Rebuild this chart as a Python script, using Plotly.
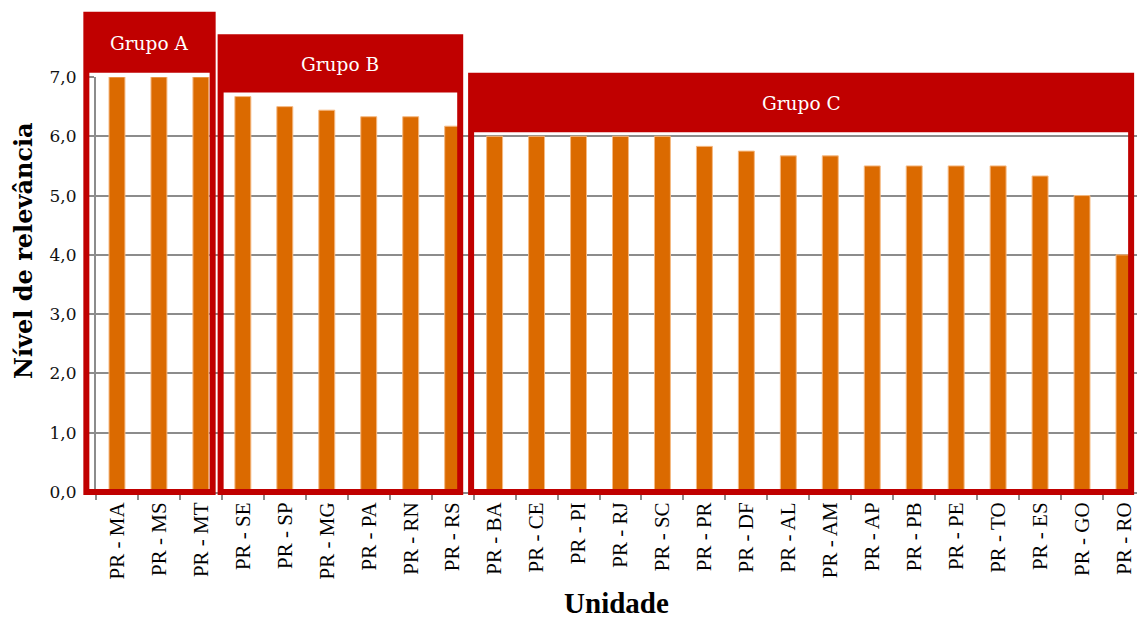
import plotly.graph_objects as go

# ---------------- data ----------------
categories = [
    "PR - MA", "PR - MS", "PR - MT",
    "PR - SE", "PR - SP", "PR - MG", "PR - PA", "PR - RN", "PR - RS",
    "PR - BA", "PR - CE", "PR - PI", "PR - RJ", "PR - SC", "PR - PR", "PR - DF",
    "PR - AL", "PR - AM", "PR - AP", "PR - PB", "PR - PE", "PR - TO", "PR - ES",
    "PR - GO", "PR - RO",
]
values = [
    7.0, 7.0, 7.0,
    6.67, 6.5, 6.44, 6.33, 6.33, 6.17,
    6.0, 6.0, 6.0, 6.0, 6.0, 5.83, 5.75,
    5.67, 5.67, 5.5, 5.5, 5.5, 5.5, 5.33,
    5.0, 4.0,
]
group_names = ["Grupo A", "Grupo B", "Grupo C"]
group_first = [0, 3, 9]
group_last = [2, 8, 24]
y_tickvals = [0, 1, 2, 3, 4, 5, 6, 7]
y_ticktext = ["0,0", "1,0", "2,0", "3,0", "4,0", "5,0", "6,0", "7,0"]
x_title = "Unidade"
y_title = "Nível de relevância"

# ---------------- layout constants ----------------
W, H = 1137, 619
ML, MR, MT, MB = 96, 0, 77, 127
X_RANGE = [-0.5, 24.31]
Y_RANGE = [0, 7]
PLOT_W = W - ML - MR
PLOT_H = H - MT - MB

RED = "#C00000"
ORANGE = "#DB6A00"
GRID = "#8C8C8C"

# box padding (category units) left/right, header geometry (value units)
box_pad_left = [0.73, 0.53, 0.56]
box_pad_right = [0.28, 0.18, 0.17]
header_gap = 0.07
header_height = [0.98, 0.93, 0.95]
FRAME_W = 6


def xp(d):
    return (d - X_RANGE[0]) / (X_RANGE[1] - X_RANGE[0])


def yp(v):
    return (v - Y_RANGE[0]) / (Y_RANGE[1] - Y_RANGE[0])


fig = go.Figure()
fig.add_trace(go.Bar(
    x=categories, y=values, width=0.38,
    marker=dict(color=ORANGE, line=dict(color="rgba(245,185,130,1)", width=1)),
    showlegend=False, hoverinfo="x+y",
))

shapes = []
annotations = []
for i, name in enumerate(group_names):
    first, last = group_first[i], group_last[i]
    gmax = max(values[first:last + 1])
    x0 = xp(first - box_pad_left[i])
    x1 = xp(last + box_pad_right[i])
    hb = yp(gmax + header_gap)
    ht = yp(gmax + header_gap + header_height[i])
    # header fill
    shapes.append(dict(type="rect", xref="paper", yref="paper",
                       x0=x0, x1=x1, y0=hb, y1=ht,
                       fillcolor=RED, line=dict(width=0), layer="above"))
    # frame
    shapes.append(dict(type="rect", xref="paper", yref="paper",
                       x0=x0, x1=x1, y0=yp(0), y1=ht,
                       fillcolor="rgba(0,0,0,0)",
                       line=dict(color=RED, width=FRAME_W), layer="above"))
    annotations.append(dict(xref="paper", yref="paper",
                            x=(x0 + x1) / 2, y=(hb + ht) / 2,
                            text=name, showarrow=False,
                            font=dict(family="DejaVu Serif", size=18.5, color="white"),
                            xanchor="center", yanchor="middle"))

# y-axis title placed as a rotated annotation (offset upward as in the original)
annotations.append(dict(xref="paper", yref="paper",
                        x=(24 - ML) / PLOT_W, y=(H - MB - 251) / PLOT_H,
                        text="<b>%s</b>" % y_title, textangle=-90, showarrow=False,
                        xanchor="center", yanchor="middle",
                        font=dict(family="DejaVu Serif", size=24, color="black")))

fig.update_layout(
    width=W, height=H,
    margin=dict(l=ML, r=MR, t=MT, b=MB, autoexpand=False),
    paper_bgcolor="white", plot_bgcolor="white",
    shapes=shapes, annotations=annotations,
    showlegend=False,
)
fig.update_xaxes(
    type="category", range=X_RANGE,
    tickangle=-90, tickson="boundaries",
    ticks="outside", ticklen=6, tickcolor=GRID, tickwidth=2,
    showline=True, linecolor=GRID, linewidth=2,
    showgrid=False,
    tickfont=dict(family="Liberation Serif", size=21, color="black"),
    title=dict(text="<b>%s</b>" % x_title, standoff=15,
               font=dict(family="Liberation Serif", size=29, color="black")),
    automargin=False,
)
fig.update_yaxes(
    range=Y_RANGE, tickvals=y_tickvals, ticktext=y_ticktext,
    ticks="outside", ticklen=6, tickcolor=GRID, tickwidth=2,
    showline=True, linecolor=GRID, linewidth=2,
    showgrid=True, gridcolor=GRID, gridwidth=2,
    zeroline=False,
    ticklabelstandoff=8,
    tickfont=dict(family="DejaVu Serif", size=17, color="#111111"),
    automargin=False,
)

fig.write_html("out.html")
